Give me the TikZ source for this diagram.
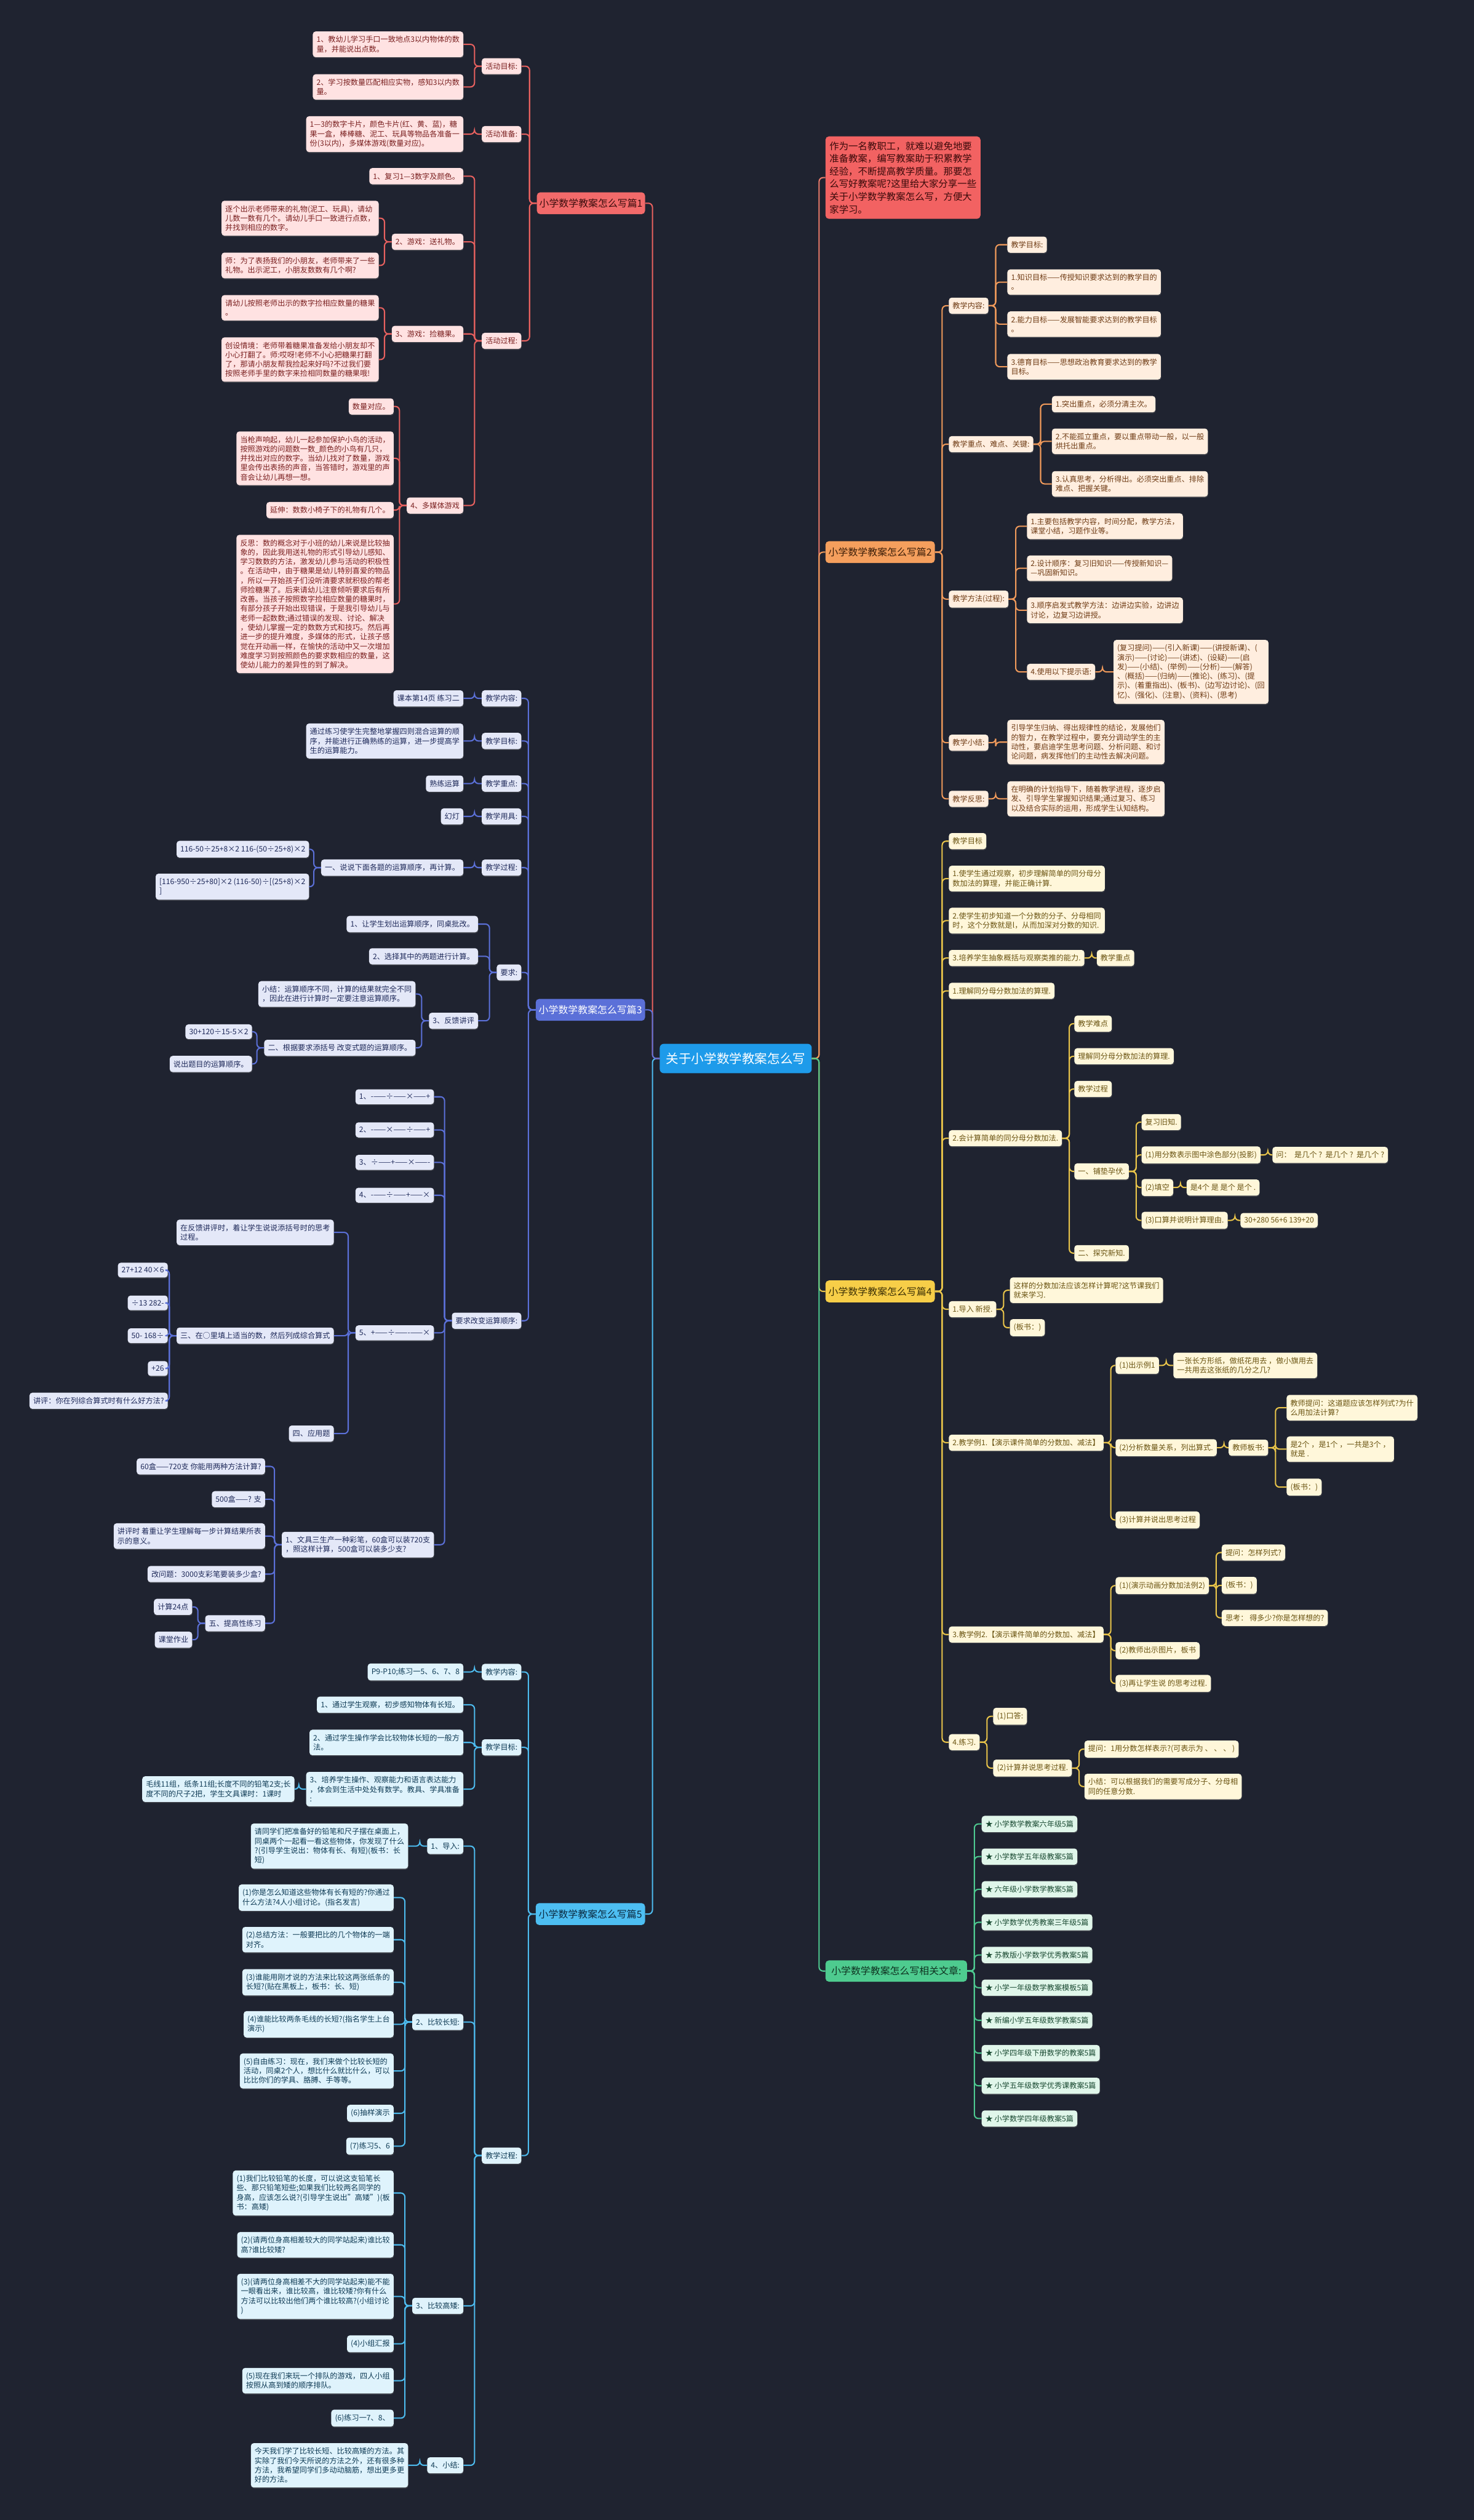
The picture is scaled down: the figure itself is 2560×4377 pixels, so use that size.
\documentclass[tikz,border=0pt]{standalone}
\usepackage{fontspec}
\setmainfont{Noto Sans CJK SC}
\usetikzlibrary{shadows}
\definecolor{bgc}{HTML}{1F2330}
\definecolor{ctr}{HTML}{1E9BEA}
% branch 1 red
\definecolor{l1}{HTML}{E8615F}\definecolor{m1f}{HTML}{F26A6A}\definecolor{m1t}{HTML}{3B0D0D}
\definecolor{s1f}{HTML}{FFE2E2}\definecolor{s1t}{HTML}{7A2020}
% branch 3 indigo
\definecolor{l3}{HTML}{5B70D8}\definecolor{m3f}{HTML}{5B70D8}
\definecolor{s3f}{HTML}{E4E8F8}\definecolor{s3t}{HTML}{1F2A5A}
% branch 5 light blue
\definecolor{l5}{HTML}{4DBBEE}\definecolor{m5f}{HTML}{4DBEF2}\definecolor{m5t}{HTML}{0B2A40}
\definecolor{s5f}{HTML}{DFF3FC}\definecolor{s5t}{HTML}{0F3B55}
% branch 2 orange
\definecolor{l2}{HTML}{F09A5B}\definecolor{m2f}{HTML}{F59F5D}\definecolor{m2t}{HTML}{3C1E08}
\definecolor{s2f}{HTML}{FFEEDF}\definecolor{s2t}{HTML}{6E3B14}
% branch 4 yellow
\definecolor{l4}{HTML}{EAC54A}\definecolor{m4f}{HTML}{F7CE48}\definecolor{m4t}{HTML}{3D3105}
\definecolor{s4f}{HTML}{FFF7DA}\definecolor{s4t}{HTML}{6A5412}
% branch 6 green
\definecolor{l6}{HTML}{4EC990}\definecolor{m6f}{HTML}{4ECB8F}\definecolor{m6t}{HTML}{0F3321}
\definecolor{s6f}{HTML}{E0F6EA}\definecolor{s6t}{HTML}{1A4A32}
% intro
\definecolor{l0}{HTML}{E87A6A}\definecolor{m0f}{HTML}{F26262}\definecolor{m0t}{HTML}{3A0A0A}
\tikzset{
  base/.style={rounded corners=5, inner xsep=6.5, inner ysep=8, align=left,
    font=\fontsize{13}{16.3}\selectfont,
    drop shadow={shadow xshift=0.6pt, shadow yshift=-1.6pt, opacity=0.35}},
  L/.style={base, anchor=east},
  R/.style={base, anchor=west},
  s1/.style={fill=s1f, text=s1t},
  s2/.style={fill=s2f, text=s2t},
  s3/.style={fill=s3f, text=s3t},
  s4/.style={fill=s4f, text=s4t},
  s5/.style={fill=s5f, text=s5t},
  s6/.style={fill=s6f, text=s6t},
  mainnode/.style={rounded corners=6, inner sep=4, align=center, minimum height=38,
    font=\fontsize{17}{20}\selectfont},
  conn/.style={line width=2.2, rounded corners=7},
}
\newcommand\lkL[3]{\draw[conn,#1] (#2.west) -- ++(-12.5,0) |- (#3.east);}
\newcommand\lkR[3]{\draw[conn,#1] (#2.east) -- ++(12.5,0) |- (#3.west);}
\begin{document}
\begin{tikzpicture}[x=1pt,y=-1pt]
\fill[bgc] (0,0) rectangle (2560,4377);
\useasboundingbox (0,0) rectangle (2560,4377);

% ---------------- centre and main nodes
\node[rounded corners=7, fill=ctr, text=white, font=\fontsize{22}{26}\selectfont,
  minimum width=264, minimum height=51, inner sep=4] (C) at (1278,1838.5) {关于小学数学教案怎么写};
\node[mainnode, anchor=east, fill=m1f, text=m1t, minimum width=188] (P1) at (1120.7,353) {小学数学教案怎么写篇1};
\node[mainnode, anchor=east, fill=m3f, text=white, minimum width=190] (P3) at (1120.7,1754) {小学数学教案怎么写篇3};
\node[mainnode, anchor=east, fill=m5f, text=m5t, minimum width=190] (P5) at (1120.7,3324.5) {小学数学教案怎么写篇5};
\node[rounded corners=6, anchor=west, fill=m0f, text=m0t, align=left, inner xsep=7, inner ysep=9,
  font=\fontsize{16.5}{22}\selectfont] (I) at (1433.6,308.5)
  {作为一名教职工，就难以避免地要\\准备教案，编写教案助于积累教学\\经验，不断提高教学质量。那要怎\\么写好教案呢?这里给大家分享一些\\关于小学数学教案怎么写，方便大\\家学习。};
\node[mainnode, anchor=west, fill=m2f, text=m2t, minimum width=190] (P2) at (1433.6,959) {小学数学教案怎么写篇2};
\node[mainnode, anchor=west, fill=m4f, text=m4t, minimum width=190] (P4) at (1433.6,2243) {小学数学教案怎么写篇4};
\node[mainnode, anchor=west, fill=m6f, text=m6t, minimum width=246, minimum height=37] (P6) at (1433.6,3423.5) {小学数学教案怎么写相关文章:};

% ---------------- branch 1
\node[L,s1] (a1) at (905.7,115) {活动目标:};
\node[L,s1] (a2) at (905.7,233) {活动准备:};
\node[L,s1] (a3) at (905.7,592) {活动过程:};
\node[L,s1] (a11) at (805,77) {1、教幼儿学习手口一致地点3以内物体的数\\量，并能说出点数。};
\node[L,s1] (a12) at (805,151) {2、学习按数量匹配相应实物，感知3以内数\\量。};
\node[L,s1] (a21) at (805,233) {1—3的数字卡片，颜色卡片(红、黄、蓝)，糖\\果一盒，棒棒糖、泥工、玩具等物品各准备一\\份(3以内)，多媒体游戏(数量对应)。};
\node[L,s1] (a31) at (805,306) {1、复习1—3数字及颜色。};
\node[L,s1] (a32) at (805,420) {2、游戏：送礼物。};
\node[L,s1] (a33) at (805,580) {3、游戏：捡糖果。};
\node[L,s1] (a34) at (805,878) {4、多媒体游戏};
\node[L,s1] (a321) at (658,379) {逐个出示老师带来的礼物(泥工、玩具)，请幼\\儿数一数有几个。请幼儿手口一致进行点数，\\并找到相应的数字。};
\node[L,s1] (a322) at (658,461) {师：为了表扬我们的小朋友，老师带来了一些\\礼物。出示泥工，小朋友数数有几个啊?};
\node[L,s1] (a331) at (658,534.6) {请幼儿按照老师出示的数字捡相应数量的糖果\\。};
\node[L,s1] (a332) at (658,624.5) {创设情境：老师带着糖果准备发给小朋友却不\\小心打翻了。师:哎呀!老师不小心把糖果打翻\\了，那请小朋友帮我捡起来好吗?不过我们要\\按照老师手里的数字来捡相同数量的糖果哦!};
\node[L,s1] (a341) at (684,706) {数量对应。};
\node[L,s1] (a342) at (684,796) {当枪声响起，幼儿一起参加保护小鸟的活动，\\按照游戏的问题数一数\_颜色的小鸟有几只，\\并找出对应的数字。当幼儿找对了数量，游戏\\里会传出表扬的声音，当答错时，游戏里的声\\音会让幼儿再想一想。};
\node[L,s1] (a343) at (684,886) {延伸：数数小椅子下的礼物有几个。};
\node[L,s1] (a344) at (684,1049) {反思：数的概念对于小班的幼儿来说是比较抽\\象的，因此我用送礼物的形式引导幼儿感知、\\学习数数的方法，激发幼儿参与活动的积极性\\。在活动中，由于糖果是幼儿特别喜爱的物品\\，所以一开始孩子们没听清要求就积极的帮老\\师捡糖果了。后来请幼儿注意倾听要求后有所\\改善。当孩子按照数字捡相应数量的糖果时，\\有部分孩子开始出现错误，于是我引导幼儿与\\老师一起数数;通过错误的发现、讨论、解决\\，使幼儿掌握一定的数数方式和技巧。然后再\\进一步的提升难度，多媒体的形式，让孩子感\\觉在开动画一样，在愉快的活动中又一次增加\\难度学习到按照颜色的要求数相应的数量，这\\使幼儿能力的差异性的到了解决。};

% ---------------- branch 3
\node[L,s3] (b1) at (905.7,1213) {教学内容:};
\node[L,s3] (b2) at (905.7,1287) {教学目标:};
\node[L,s3] (b3) at (905.7,1361) {教学重点:};
\node[L,s3] (b4) at (905.7,1418) {教学用具:};
\node[L,s3] (b5) at (905.7,1507) {教学过程:};
\node[L,s3] (b6) at (905.7,1689) {要求:};
\node[L,s3] (b7) at (905.7,2294) {要求改变运算顺序:};
\node[L,s3] (b11) at (805,1213) {课本第14页 练习二};
\node[L,s3] (b21) at (805,1287) {通过练习使学生完整地掌握四则混合运算的顺\\序，并能进行正确熟练的运算，进一步提高学\\生的运算能力。};
\node[L,s3] (b31) at (805,1361) {熟练运算};
\node[L,s3] (b41) at (805,1418) {幻灯};
\node[L,s3] (b51) at (805,1507) {一、说说下面各题的运算顺序，再计算。};
\node[L,s3] (b511) at (537,1475) {116-50÷25+8×2 116-(50÷25+8)×2};
\node[L,s3] (b512) at (537,1540) {[116-950÷25+80]×2 (116-50)÷[(25+8)×2\\]};
\node[L,s3] (b61) at (830.5,1605) {1、让学生划出运算顺序，同桌批改。};
\node[L,s3] (b62) at (830.5,1661) {2、选择其中的两题进行计算。};
\node[L,s3] (b63) at (830.5,1773) {3、反馈讲评};
\node[L,s3] (b631) at (722,1726.5) {小结：运算顺序不同，计算的结果就完全不同\\，因此在进行计算时一定要注意运算顺序。};
\node[L,s3] (b632) at (722,1820) {二、根据要求添括号 改变式题的运算顺序。};
\node[L,s3] (b6321) at (438,1792) {30+120÷15-5×2};
\node[L,s3] (b6322) at (438,1848) {说出题目的运算顺序。};
\node[L,s3] (b71) at (754,1905) {1、-——÷——×——+};
\node[L,s3] (b72) at (754,1962.5) {2、-——×——÷——+};
\node[L,s3] (b73) at (754,2019) {3、÷——+——×——-};
\node[L,s3] (b74) at (754,2076) {4、-——÷——+——×};
\node[L,s3] (b75) at (754,2315) {5、+——÷——-——×};
\node[L,s3] (b76) at (754,2683) {1、文具三生产一种彩笔，60盒可以装720支\\，照这样计算，500盒可以装多少支?};
\node[L,s3] (b751) at (580,2140.5) {在反馈讲评时，着让学生说说添括号时的思考\\过程。};
\node[L,s3] (b752) at (580,2320) {三、在○里填上适当的数，然后列成综合算式};
\node[L,s3] (b753) at (580,2490) {四、应用题};
\node[L,s3] (c1) at (291.6,2206) {27+12 40×6};
\node[L,s3] (c2) at (291.6,2263) {÷13 282-};
\node[L,s3] (c3) at (291.6,2320) {50- 168÷};
\node[L,s3] (c4) at (291.6,2377) {+26};
\node[L,s3] (c5) at (291.6,2433) {讲评：你在列综合算式时有什么好方法?};
\node[L,s3] (d1) at (460.6,2547) {60盒——720支 你能用两种方法计算?};
\node[L,s3] (d2) at (460.6,2604) {500盒——? 支};
\node[L,s3] (d3) at (460.6,2668) {讲评时 着重让学生理解每一步计算结果所表\\示的意义。};
\node[L,s3] (d4) at (460.6,2734) {改问题：3000支彩笔要装多少盒?};
\node[L,s3] (d5) at (460.6,2819.5) {五、提高性练习};
\node[L,s3] (d51) at (334,2791) {计算24点};
\node[L,s3] (d52) at (334,2848) {课堂作业};

% ---------------- branch 5
\node[L,s5] (e1) at (905.7,2904) {教学内容:};
\node[L,s5] (e2) at (905.7,3035) {教学目标:};
\node[L,s5] (e3) at (905.7,3744) {教学过程:};
\node[L,s5] (e11) at (805,2904) {P9-P10;练习一5、6、7、8};
\node[L,s5] (e21) at (805,2961) {1、通过学生观察，初步感知物体有长短。};
\node[L,s5] (e22) at (805,3026.5) {2、通过学生操作学会比较物体长短的一般方\\法。};
\node[L,s5] (e23) at (805,3107.5) {3、培养学生操作、观察能力和语言表达能力\\，体会到生活中处处有数学。教具、学具准备\\:};
\node[L,s5] (e231) at (511.6,3107.5) {毛线11组，纸条11组;长度不同的铅笔2支;长\\度不同的尺子2把，学生文具课时：1课时};
\node[L,s5] (f1) at (805,3206.5) {1、导入:};
\node[L,s5] (f2) at (805,3512) {2、比较长短:};
\node[L,s5] (f3) at (805,4005) {3、比较高矮:};
\node[L,s5] (f4) at (805,4282) {4、小结:};
\node[L,s5] (f11) at (709,3206.5) {请同学们把准备好的铅笔和尺子摆在桌面上，\\同桌两个一起看一看这些物体，你发现了什么\\?(引导学生说出：物体有长、有短)(板书：长\\短)};
\node[L,s5] (f21) at (684,3296) {(1)你是怎么知道这些物体有长有短的?你通过\\什么方法?4人小组讨论。(指名发言)};
\node[L,s5] (f22) at (684,3369) {(2)总结方法：一般要把比的几个物体的一端\\对齐。};
\node[L,s5] (f23) at (684,3443) {(3)谁能用刚才说的方法来比较这两张纸条的\\长短?(贴在黑板上，板书：长、短)};
\node[L,s5] (f24) at (684,3516) {(4)谁能比较两条毛线的长短?(指名学生上台\\演示)};
\node[L,s5] (f25) at (684,3597) {(5)自由练习：现在，我们来做个比较长短的\\活动，同桌2个人，想比什么就比什么，可以\\比比你们的学具、胳膊、手等等。};
\node[L,s5] (f26) at (684,3670.6) {(6)抽样演示};
\node[L,s5] (f27) at (684,3727.6) {(7)练习5、6};
\node[L,s5] (f31) at (684,3809) {(1)我们比较铅笔的长度，可以说这支铅笔长\\些、那只铅笔短些;如果我们比较两名同学的\\身高，应该怎么说?(引导学生说出"高矮")(板\\书：高矮)};
\node[L,s5] (f32) at (684,3899) {(2)(请两位身高相差较大的同学站起来)谁比较\\高?谁比较矮?};
\node[L,s5] (f33) at (684,3988.6) {(3)(请两位身高相差不大的同学站起来)能不能\\一眼看出来，谁比较高，谁比较矮?你有什么\\方法可以比较出他们两个谁比较高?(小组讨论\\)};
\node[L,s5] (f34) at (684,4071) {(4)小组汇报};
\node[L,s5] (f35) at (684,4135) {(5)现在我们来玩一个排队的游戏，四人小组\\按照从高到矮的顺序排队。};
\node[L,s5] (f36) at (684,4200) {(6)练习一7、8、};
\node[L,s5] (f41) at (709,4282) {今天我们学了比较长短、比较高矮的方法。其\\实除了我们今天所说的方法之外，还有很多种\\方法，我希望同学们多动动脑筋，想出更多更\\好的方法。};

% ---------------- branch 2
\node[R,s2] (g1) at (1648,531) {教学内容:};
\node[R,s2] (g2) at (1648,771.5) {教学重点、难点、关键:};
\node[R,s2] (g3) at (1648,1040.6) {教学方法(过程):};
\node[R,s2] (g4) at (1648,1290) {教学小结:};
\node[R,s2] (g5) at (1648,1387.5) {教学反思:};
\node[R,s2] (g11) at (1749.6,425) {教学目标:};
\node[R,s2] (g12) at (1749.6,490) {1.知识目标——传授知识要求达到的教学目的\\。};
\node[R,s2] (g13) at (1749.6,563) {2.能力目标——发展智能要求达到的教学目标\\。};
\node[R,s2] (g14) at (1749.6,637) {3.德育目标——思想政治教育要求达到的教学\\目标。};
\node[R,s2] (g21) at (1827,702) {1.突出重点，必须分清主次。};
\node[R,s2] (g22) at (1827,766.5) {2.不能孤立重点，要以重点带动一般，以一般\\烘托出重点。};
\node[R,s2] (g23) at (1827,840.5) {3.认真思考，分析得出。必须突出重点、排除\\难点、把握关键。};
\node[R,s2] (g31) at (1783.7,914) {1.主要包括教学内容，时间分配，教学方法，\\课堂小结，习题作业等。};
\node[R,s2] (g32) at (1783.7,987) {2.设计顺序：复习旧知识——传授新知识—\\—巩固新知识。};
\node[R,s2] (g33) at (1783.7,1060) {3.顺序启发式教学方法：边讲边实验，边讲边\\讨论，边复习边讲授。};
\node[R,s2] (g34) at (1783.7,1167) {4.使用以下提示语:};
\node[R,s2] (g341) at (1934,1167) {(复习提问)——(引入新课)——(讲授新课)、(\\演示)——(讨论)——(讲述)、(设疑)——(启\\发)——(小结)、(举例)——(分析)——(解答)\\、(概括)——(归纳)——(推论)、(练习)、(提\\示)、(着重指出)、(板书)、(边写边讨论)、(回\\忆)、(强化)、(注意)、(资料)、(思考)};
\node[R,s2] (g41) at (1749.6,1289) {引导学生归纳、得出规律性的结论，发展他们\\的智力，在教学过程中，要充分调动学生的主\\动性，要启迪学生思考问题、分析问题、和讨\\论问题，病发挥他们的主动性去解决问题。};
\node[R,s2] (g51) at (1749.6,1387.5) {在明确的计划指导下，随着教学进程，逐步启\\发、引导学生掌握知识结果;通过复习、练习\\以及结合实际的运用，形成学生认知结构。};

% ---------------- branch 4
\node[R,s4] (h1) at (1648,1461) {教学目标};
\node[R,s4] (h2) at (1648,1526) {1.使学生通过观察，初步理解简单的同分母分\\数加法的算理，并能正确计算.};
\node[R,s4] (h3) at (1648,1599) {2.使学生初步知道一个分数的分子、分母相同\\时，这个分数就是l，从而加深对分数的知识.};
\node[R,s4] (h4) at (1648,1664) {3.培养学生抽象概括与观察类推的能力.};
\node[R,s4] (h41) at (1905,1664) {教学重点};
\node[R,s4] (h5) at (1648,1721) {1.理解同分母分数加法的算理.};
\node[R,s4] (h6) at (1648,1977) {2.会计算简单的同分母分数加法.};
\node[R,s4] (h61) at (1866,1778) {教学难点};
\node[R,s4] (h62) at (1866,1834.6) {理解同分母分数加法的算理.};
\node[R,s4] (h63) at (1866,1891.5) {教学过程};
\node[R,s4] (h64) at (1866,2034.6) {一、铺垫孕伏.};
\node[R,s4] (h65) at (1866,2176.6) {二、探究新知.};
\node[R,s4] (i1) at (1982.6,1949) {复习旧知.};
\node[R,s4] (i2) at (1982.6,2006) {(1)用分数表示图中涂色部分(投影)};
\node[R,s4] (i21) at (2210,2006) {问：\ \ 是几个 ?\ \ 是几个 ?\ \ 是几个 ?};
\node[R,s4] (i3) at (1982.6,2062.6) {(2)填空};
\node[R,s4] (i31) at (2061,2062.6) {是4个 是 是个 是个 .};
\node[R,s4] (i4) at (1982.6,2119.6) {(3)口算并说明计算理由.};
\node[R,s4] (i41) at (2154.5,2119.6) {30+280 56+6 139+20};
\node[R,s4] (h7) at (1648,2274) {1.导入 新授.};
\node[R,s4] (j1) at (1754,2241) {这样的分数加法应该怎样计算呢?这节课我们\\就来学习.};
\node[R,s4] (j2) at (1754,2306) {(板书：)};
\node[R,s4] (h8) at (1648,2505.8) {2.教学例1.【演示课件简单的分数加、减法】};
\node[R,s4] (k1) at (1937.6,2371.6) {(1)出示例1};
\node[R,s4] (k11) at (2038,2371.6) {一张长方形纸，做纸花用去 ，做小旗用去\\一共用去这张纸的几分之几?};
\node[R,s4] (k2) at (1937.6,2514.5) {(2)分析数量关系，列出算式.};
\node[R,s4] (k21) at (2134,2514.5) {教师板书:};
\node[R,s4] (k211) at (2234.7,2445) {教师提问：这道题应该怎样列式?为什\\么用加法计算?};
\node[R,s4] (k212) at (2234.7,2517) {是2个 ，是1个 ，一共是3个 ，\\就是 .};
\node[R,s4] (k213) at (2234.7,2583) {(板书：)};
\node[R,s4] (k3) at (1937.6,2640) {(3)计算并说出思考过程};
\node[R,s4] (h9) at (1648,2839) {3.教学例2.【演示课件简单的分数加、减法】};
\node[R,s4] (l1) at (1937.6,2754) {(1)(演示动画分数加法例2)};
\node[R,s4] (l11) at (2122,2696.6) {提问：怎样列式?};
\node[R,s4] (l12) at (2122,2753.6) {(板书：)};
\node[R,s4] (l13) at (2122,2810) {思考：\ 得多少?你是怎样想的?};
\node[R,s4] (l2) at (1937.6,2867) {(2)教师出示图片，板书};
\node[R,s4] (l3) at (1937.6,2924) {(3)再让学生说 的思考过程.};
\node[R,s4] (h10) at (1648,3026) {4.练习.};
\node[R,s4] (m1) at (1725,2981) {(1)口答:};
\node[R,s4] (m2) at (1725,3071) {(2)计算并说思考过程.};
\node[R,s4] (m21) at (1883.5,3038) {提问：1用分数怎样表示?(可表示为 、 、 、 )};
\node[R,s4] (m22) at (1883.5,3103) {小结：可以根据我们的需要写成分子、分母相\\同的任意分数.};

% ---------------- branch 6
\node[R,s6] (n1) at (1705,3168) {★ 小学数学教案六年级5篇};
\node[R,s6] (n2) at (1705,3224.7) {★ 小学数学五年级教案5篇};
\node[R,s6] (n3) at (1705,3281.5) {★ 六年级小学数学教案5篇};
\node[R,s6] (n4) at (1705,3338.8) {★ 小学数学优秀教案三年级5篇};
\node[R,s6] (n5) at (1705,3395.6) {★ 苏教版小学数学优秀教案5篇};
\node[R,s6] (n6) at (1705,3452.4) {★ 小学一年级数学教案模板5篇};
\node[R,s6] (n7) at (1705,3509) {★ 新编小学五年级数学教案5篇};
\node[R,s6] (n8) at (1705,3566) {★ 小学四年级下册数学的教案5篇};
\node[R,s6] (n9) at (1705,3622.8) {★ 小学五年级数学优秀课教案5篇};
\node[R,s6] (n10) at (1705,3679.6) {★ 小学数学四年级教案5篇};

% ---------------- connectors: centre
\lkL{l5}{C}{P5}
\lkL{l1}{C}{P1}
\lkL{l3}{C}{P3}
\lkR{l0}{C}{I}
\lkR{l2}{C}{P2}
\lkR{l4}{C}{P4}
\lkR{l6}{C}{P6}

% branch 1
\foreach \c in {a1,a2,a3} {\lkL{l1}{P1}{\c}}
\foreach \c in {a11,a12} {\lkL{l1}{a1}{\c}}
\lkL{l1}{a2}{a21}
\foreach \c in {a31,a32,a33,a34} {\lkL{l1}{a3}{\c}}
\foreach \c in {a321,a322} {\lkL{l1}{a32}{\c}}
\foreach \c in {a331,a332} {\lkL{l1}{a33}{\c}}
\foreach \c in {a341,a342,a343,a344} {\lkL{l1}{a34}{\c}}

% branch 3
\foreach \c in {b1,b2,b3,b4,b5,b6,b7} {\lkL{l3}{P3}{\c}}
\lkL{l3}{b1}{b11}
\lkL{l3}{b2}{b21}
\lkL{l3}{b3}{b31}
\lkL{l3}{b4}{b41}
\lkL{l3}{b5}{b51}
\foreach \c in {b511,b512} {\lkL{l3}{b51}{\c}}
\foreach \c in {b61,b62,b63} {\lkL{l3}{b6}{\c}}
\foreach \c in {b631,b632} {\lkL{l3}{b63}{\c}}
\foreach \c in {b6321,b6322} {\lkL{l3}{b632}{\c}}
\foreach \c in {b71,b72,b73,b74,b75,b76} {\lkL{l3}{b7}{\c}}
\foreach \c in {b751,b752,b753} {\lkL{l3}{b75}{\c}}
\foreach \c in {c1,c2,c3,c4,c5} {\lkL{l3}{b752}{\c}}
\foreach \c in {d1,d2,d3,d4,d5} {\lkL{l3}{b76}{\c}}
\foreach \c in {d51,d52} {\lkL{l3}{d5}{\c}}

% branch 5
\foreach \c in {e1,e2,e3} {\lkL{l5}{P5}{\c}}
\lkL{l5}{e1}{e11}
\foreach \c in {e21,e22,e23} {\lkL{l5}{e2}{\c}}
\lkL{l5}{e23}{e231}
\foreach \c in {f1,f2,f3,f4} {\lkL{l5}{e3}{\c}}
\lkL{l5}{f1}{f11}
\foreach \c in {f21,f22,f23,f24,f25,f26,f27} {\lkL{l5}{f2}{\c}}
\foreach \c in {f31,f32,f33,f34,f35,f36} {\lkL{l5}{f3}{\c}}
\lkL{l5}{f4}{f41}

% branch 2
\foreach \c in {g1,g2,g3,g4,g5} {\lkR{l2}{P2}{\c}}
\foreach \c in {g11,g12,g13,g14} {\lkR{l2}{g1}{\c}}
\foreach \c in {g21,g22,g23} {\lkR{l2}{g2}{\c}}
\foreach \c in {g31,g32,g33,g34} {\lkR{l2}{g3}{\c}}
\lkR{l2}{g34}{g341}
\lkR{l2}{g4}{g41}
\lkR{l2}{g5}{g51}

% branch 4
\foreach \c in {h1,h2,h3,h4,h5,h6,h7,h8,h9,h10} {\lkR{l4}{P4}{\c}}
\lkR{l4}{h4}{h41}
\foreach \c in {h61,h62,h63,h64,h65} {\lkR{l4}{h6}{\c}}
\foreach \c in {i1,i2,i3,i4} {\lkR{l4}{h64}{\c}}
\lkR{l4}{i2}{i21}
\lkR{l4}{i3}{i31}
\lkR{l4}{i4}{i41}
\foreach \c in {j1,j2} {\lkR{l4}{h7}{\c}}
\foreach \c in {k1,k2,k3} {\lkR{l4}{h8}{\c}}
\lkR{l4}{k1}{k11}
\lkR{l4}{k2}{k21}
\foreach \c in {k211,k212,k213} {\lkR{l4}{k21}{\c}}
\foreach \c in {l1,l2,l3} {\lkR{l4}{h9}{\c}}
\foreach \c in {l11,l12,l13} {\lkR{l4}{l1}{\c}}
\foreach \c in {m1,m2} {\lkR{l4}{h10}{\c}}
\foreach \c in {m21,m22} {\lkR{l4}{m2}{\c}}

% branch 6
\foreach \c in {n1,n2,n3,n4,n5,n6,n7,n8,n9,n10} {\lkR{l6}{P6}{\c}}
\end{tikzpicture}
\end{document}
